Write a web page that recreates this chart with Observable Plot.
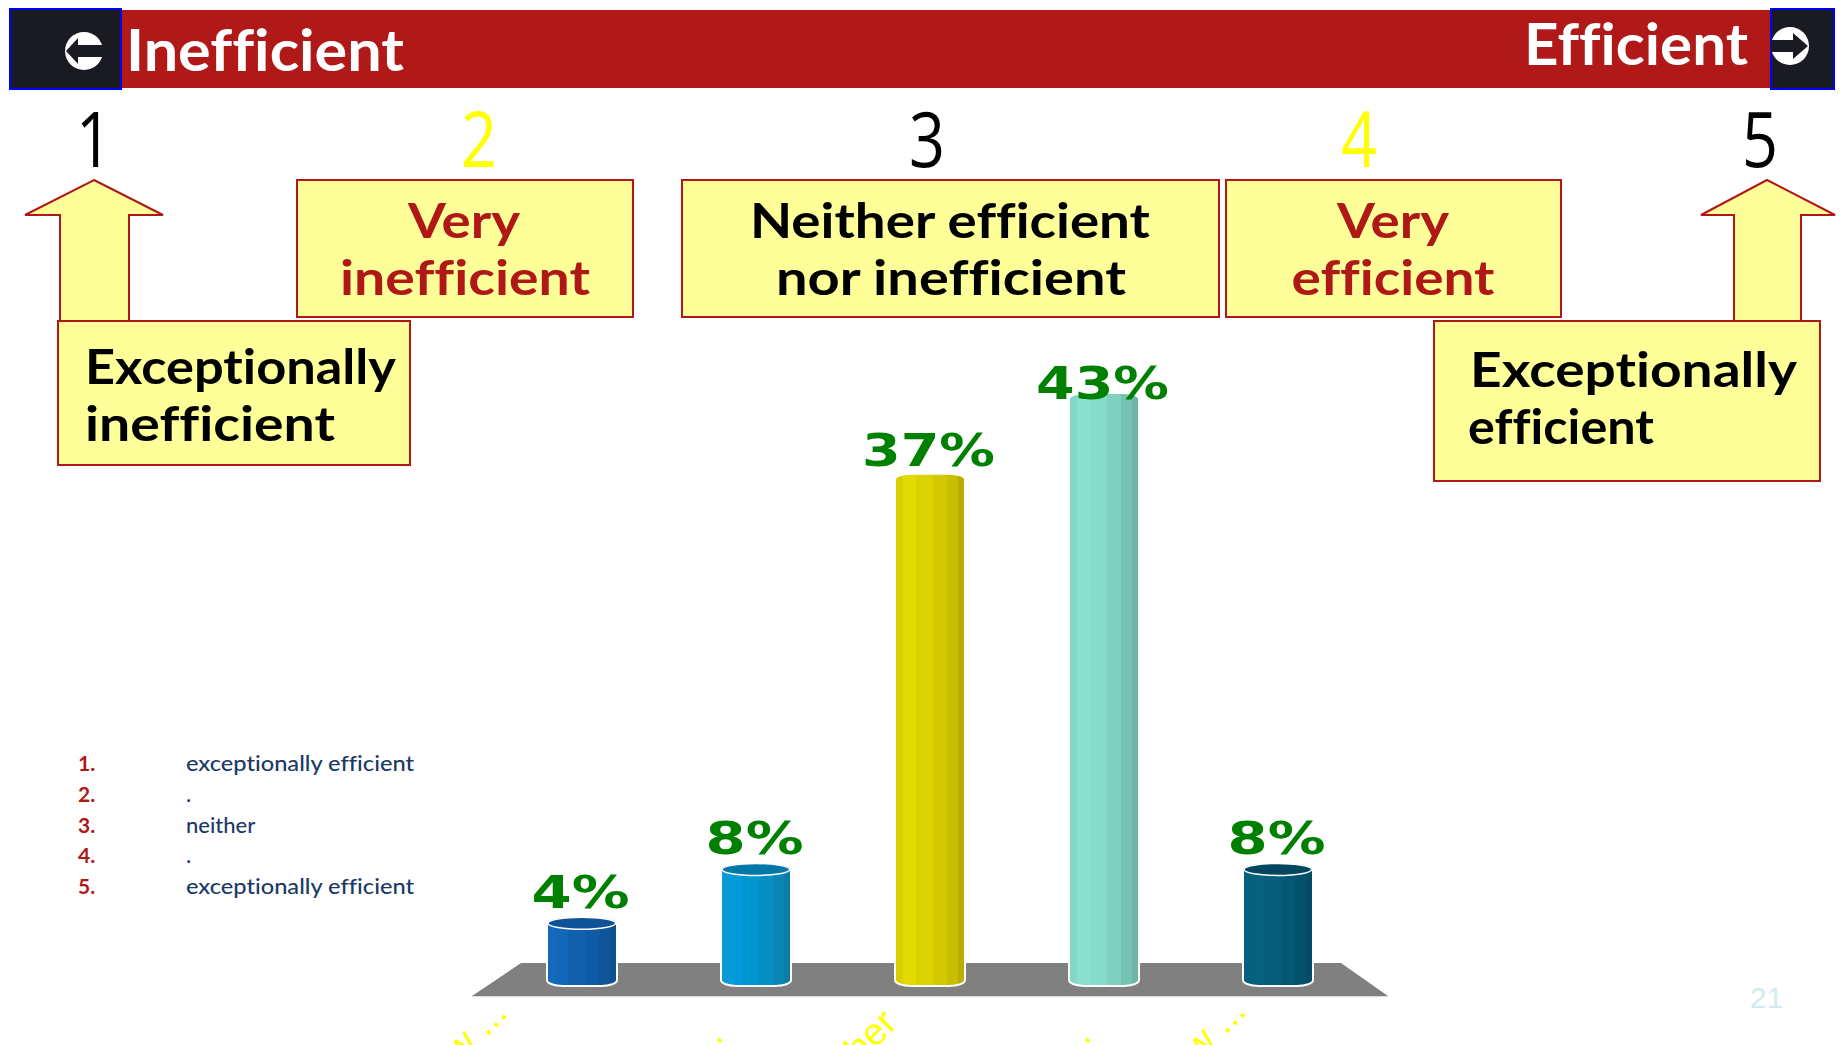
<!DOCTYPE html>
<html>
<head>
<meta charset="utf-8">
<style>html,body{margin:0;padding:0;background:#fff;overflow:hidden}svg{display:block}svg text{font-variant-ligatures:none}</style>
<script src="https://cdn.jsdelivr.net/npm/d3@7"></script>
<script src="https://cdn.jsdelivr.net/npm/@observablehq/plot@0.6"></script>
</head>
<body>
<div id="chart"></div>
<script>
// ---- data ----
const categories = ["1", "2", "3", "4", "5"];
const percentValues = [4, 8, 37, 43, 8];
const axisLabels = ["w ...", ".", "neither", ".", "w ..."];
const legendNumbers = ["1.", "2.", "3.", "4.", "5."];
const legendLabels = ["exceptionally efficient", ".", "neither", ".", "exceptionally efficient"];
const scaleDigits = ["1", "2", "3", "4", "5"];
const headerLeft = "Inefficient";
const headerRight = "Efficient";
const pageNumber = "21";

// ---- styles ----
const facetColors = [
  ["#1469bd", "#1267b8", "#1060ae", "#0f5ba5", "#0e5599", "#0d4f8f"],
  ["#0a9ad6", "#029ad8", "#0097d0", "#0590c4", "#0a86b4", "#0b7ca6"],
  ["#d9cf00", "#e4da00", "#dcd200", "#d2c800", "#c8bd00", "#b8ad00"],
  ["#84d6c6", "#8ae0d0", "#86dccb", "#7fd0bf", "#76c3b3", "#6fb6a8"],
  ["#05607e", "#06617f", "#055d7a", "#055873", "#04516b", "#044a62"]
];
const capColors = ["#0e5297", "#0378a8", null, null, "#044560"];
const labelOffsets = [
  {dx: -82, dy: -39}, {dx: -40, dy: -16}, {dx: -40, dy: -29}, {dx: -20, dy: -16}, {dx: -39, dy: -41}
];
const RED = "#b01818", PALE = "#ffff99", DARK = "#1a1b22";
const SLIDE_FONT = "Lato";

const rows = categories.map((c, i) => ({c, i, v: percentValues[i]}));

// ---- slide furniture (drawn behind the chart) ----
function furniture() {
  const g = d3.create("svg:g");
  const rect = (x, y, w, h, fill, stroke, sw) => g.append("rect")
    .attr("x", x).attr("y", y).attr("width", w).attr("height", h)
    .attr("fill", fill).attr("stroke", stroke || "none").attr("stroke-width", sw || 0);
  const path = (d, fill, stroke, sw) => g.append("path").attr("d", d)
    .attr("fill", fill).attr("stroke", stroke || "none").attr("stroke-width", sw || 0);
  const text = (s, x, y, o) => {
    const t = g.append("text").attr("x", x).attr("y", y).text(s)
      .attr("font-family", o.family || SLIDE_FONT).attr("font-size", o.size)
      .attr("font-weight", o.weight || 400).attr("fill", o.fill)
      .attr("text-anchor", o.anchor || "start");
    if (o.len) t.attr("textLength", o.len).attr("lengthAdjust", "spacingAndGlyphs");
    return t;
  };

  // header band
  rect(120, 10, 1651, 78, "#b11818");
  rect(10, 9, 111, 80, DARK, "#0000ff", 2);
  rect(1771, 9, 63, 80, DARK, "#0000ff", 2);
  g.append("circle").attr("cx", 84).attr("cy", 51).attr("r", 19).attr("fill", "#fff");
  path("M66 51L78 38V45H104V57H78V64Z", DARK);
  g.append("circle").attr("cx", 1790).attr("cy", 46).attr("r", 19).attr("fill", "#fff");
  path("M1808 46L1793 33V40H1771V52H1793V59Z", DARK);
  text(headerLeft, 126, 71, {size: 58, weight: 700, fill: "#fff", len: 278});
  text(headerRight, 1524, 65, {size: 58, weight: 700, fill: "#fff", len: 224});

  // scale digits
  const digitX = [94, 479, 927, 1359, 1760];
  const digitFill = ["#000", "#ffff00", "#000", "#ffff00", "#000"];
  scaleDigits.forEach((d, i) => text(d, digitX[i], 167, {family: "Open Sans", size: 76, fill: digitFill[i], anchor: "middle", len: 36}));

  // arrows
  path("M94 180L163 215H129V321H60V215H25Z", PALE, RED, 2);
  path("M1767 180L1835 215H1801V321H1734V215H1701Z", PALE, RED, 2);

  // boxes
  rect(297, 180, 336, 137, PALE, RED, 2);
  rect(682, 180, 537, 137, PALE, RED, 2);
  rect(1226, 180, 335, 137, PALE, RED, 2);
  rect(58, 321, 352, 144, PALE, RED, 2);
  rect(1434, 321, 386, 160, PALE, RED, 2);

  const big = {size: 48, weight: 700};
  text("Very", 464, 238, {...big, fill: RED, anchor: "middle", len: 112});
  text("inefficient", 465, 295, {...big, fill: RED, anchor: "middle", len: 250});
  text("Neither efficient", 950, 238, {...big, fill: "#000", anchor: "middle", len: 400});
  text("nor inefficient", 951, 295, {...big, fill: "#000", anchor: "middle", len: 350});
  text("Very", 1393, 238, {...big, fill: RED, anchor: "middle", len: 112});
  text("efficient", 1393, 295, {...big, fill: RED, anchor: "middle", len: 203});
  text("Exceptionally", 85, 384, {...big, fill: "#000", len: 311});
  text("inefficient", 85, 441, {...big, fill: "#000", len: 250});
  text("Exceptionally", 1470, 387, {...big, fill: "#000", len: 327});
  text("efficient", 1468, 444, {...big, fill: "#000", len: 186});

  // legend
  legendNumbers.forEach((n, i) => {
    const y = 771 + i * 30.8;
    text(n, 78, y, {family: "Lato", size: 21, weight: 700, fill: RED});
    const o = {family: "Lato", size: 22, weight: 500, fill: "#1b3a66"};
    if (legendLabels[i].length > 10) o.len = 228;
    text(legendLabels[i], 186, y, o);
  });

  // page number
  text(pageNumber, 1750, 1008, {family: "Liberation Sans", size: 30, fill: "#d3eaf0"});

  // floor
  path("M521 963H1341L1388 996H472Z", "#808080");
  g.append("line").attr("x1", 472).attr("x2", 1388).attr("y1", 996.5).attr("y2", 996.5)
    .attr("stroke", "#d8d8d8").attr("stroke-width", 1);

  // cylinder gradients
  const defs = g.append("defs");
  facetColors.forEach((cols, k) => {
    const grad = defs.append("linearGradient").attr("id", "cyl" + k)
      .attr("x1", 0).attr("x2", 1).attr("y1", 0).attr("y2", 0);
    const edges = [0, 0.12, 0.3, 0.55, 0.75, 0.9, 1];
    cols.forEach((col, j) => {
      grad.append("stop").attr("offset", edges[j]).attr("stop-color", col);
      grad.append("stop").attr("offset", edges[j + 1]).attr("stop-color", col);
    });
  });
  return g.node();
}

// ---- elliptical caps on the short cylinders ----
function caps(index, scales) {
  const g = d3.create("svg:g");
  const step = Math.abs(scales.x(categories[1]) - scales.x(categories[0]));
  const bw = step * 0.4;
  rows.filter(d => capColors[d.i]).forEach(d => {
    g.append("ellipse")
      .attr("cx", scales.x(d.c) + bw / 2)
      .attr("cy", scales.y(d.v) + 6)
      .attr("rx", bw / 2 - 1).attr("ry", 6)
      .attr("fill", capColors[d.i])
      .attr("stroke", "#fff").attr("stroke-width", 1.5);
  });
  return g.node();
}

const pctLabel = d => d.v + "%";
const pctStyle = {
  x: "c", y: "v", text: pctLabel, dx: -2, fill: "#008000",
  fontFamily: "DejaVu Sans", fontWeight: 700, fontSize: 44,
  lineAnchor: "bottom", className: "pct"
};

const plot = Plot.plot({
  width: 1845, height: 1045,
  marginTop: 0, marginRight: 0, marginBottom: 0, marginLeft: 0,
  style: {background: "#fff"},
  x: {type: "band", domain: categories, range: [442.8, 1417.2], padding: 0.6, axis: null},
  y: {domain: [0, 43], range: [971, 393], axis: null},
  marks: [
    furniture,
    Plot.barY(rows, {
      x: "c", y1: 0, y2: "v",
      fill: {value: d => `url(#cyl${d.i})`, scale: null},
      stroke: "#fff", strokeWidth: 2, rx: 16, ry: 6,
      insetBottom: -15
    }),
    caps,
    Plot.text(rows.filter(d => d.v < 30), {...pctStyle, dy: -10}),
    Plot.text(rows.filter(d => d.v >= 30 && d.v < 40), {...pctStyle, dy: -8}),
    Plot.text(rows.filter(d => d.v >= 40), {...pctStyle, dy: 5}),
    ...rows.map(d => Plot.text([d], {
      x: "c", text: e => axisLabels[e.i], frameAnchor: "bottom",
      dx: labelOffsets[d.i].dx, dy: labelOffsets[d.i].dy,
      rotate: -45, textAnchor: "end", lineAnchor: "middle",
      fill: "#ffff00", fontSize: 38, fontFamily: "Liberation Sans"
    }))
  ]
});

// widen the percent labels to the reference's extended look
d3.select(plot).selectAll(".pct text").each(function () {
  const s = this.textContent;
  d3.select(this).attr("textLength", s.length === 2 ? 98 : 133).attr("lengthAdjust", "spacingAndGlyphs");
});
document.getElementById("chart").appendChild(plot);
</script>
</body>
</html>
